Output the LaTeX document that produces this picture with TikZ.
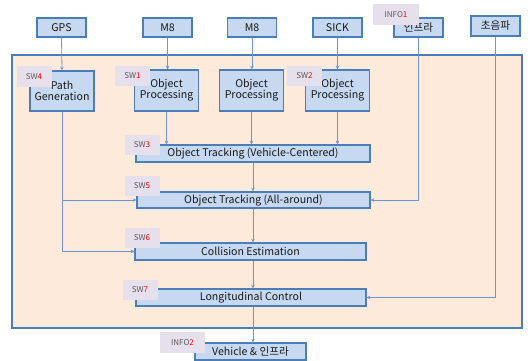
\documentclass[tikz,border=0pt]{standalone}
\usepackage{fontspec}
\setmainfont{Noto Sans CJK KR}
\usetikzlibrary{arrows.meta}
\definecolor{boxfill}{HTML}{C6D9F1}
\definecolor{boxline}{HTML}{4A7EBB}
\definecolor{panelfill}{HTML}{FDEADA}
\definecolor{wire}{HTML}{6F95CF}
\definecolor{tagfill}{HTML}{E5E0EC}
\definecolor{tagtext}{HTML}{595959}
\tikzset{
  blk/.style={draw=boxline, fill=boxfill, line width=1.4pt, inner sep=0pt,
    font=\fontsize{10.6}{12}\selectfont, text=black!90, align=center},
  tag/.style={fill=tagfill, inner sep=0pt, minimum width=35pt, minimum height=20pt,
    font=\fontsize{8}{9}\selectfont, text=tagtext},
  flow/.style={draw=wire, line width=0.8pt, -{Stealth[length=3.5pt,width=3.5pt]}}
}
\newcommand{\tagnum}[2]{#1\textcolor{red}{#2}}
\begin{document}
\begin{tikzpicture}[x=1pt,y=-1pt]
\useasboundingbox (0,0) rectangle (530,361);
% processing area
\draw[fill=panelfill, draw=boxline, line width=1.4pt] (12,55) rectangle (522,328);
% sensors
\node[blk, minimum width=49pt, minimum height=19pt] (gps) at (61.5,27.5) {GPS};
\node[blk, minimum width=49pt, minimum height=19pt] (m8a) at (167.5,27.5) {M8};
\node[blk, minimum width=49pt, minimum height=19pt] (m8b) at (252,27.5) {M8};
\node[blk, minimum width=49pt, minimum height=19pt] (sick) at (337.5,27.5) {SICK};
\node[blk, minimum width=49pt, minimum height=19pt] (infra) at (418.5,27.5) {인프라};
\node[blk, minimum width=49pt, minimum height=20pt] (ultra) at (495.5,26) {초음파};
% processing blocks
\node[blk, minimum width=64pt, minimum height=40pt] (pg) at (62,91) {Path\\[-1pt]Generation};
\node[blk, minimum width=64pt, minimum height=41pt] (op1) at (166.5,90.5) {Object\\[-1pt]Processing};
\node[blk, minimum width=64pt, minimum height=41pt] (op2) at (251.5,90.5) {Object\\[-1pt]Processing};
\node[blk, minimum width=64pt, minimum height=41pt] (op3) at (337.5,90.5) {Object\\[-1pt]Processing};
\node[blk, minimum width=234pt, minimum height=17pt] (otvc) at (253,153.5) {Object Tracking (Vehicle-Centered)};
\node[blk, minimum width=233pt, minimum height=16pt] (otaa) at (253.5,200) {Object Tracking (All-around)};
\node[blk, minimum width=231pt, minimum height=17pt] (ce) at (250.5,251.5) {Collision Estimation};
\node[blk, minimum width=230pt, minimum height=17pt] (lc) at (251,297.5) {Longitudinal Control};
\node[blk, minimum width=111pt, minimum height=17pt] (veh) at (250.5,351.5) {Vehicle \& 인프라};
% connections
\draw[flow] (gps.south) -- (pg.north);
\draw[flow] (m8a.south) -- (m8a.south |- op1.north);
\draw[flow] (m8b.south) -- (m8b.south |- op2.north);
\draw[flow] (sick.south) -- (sick.south |- op3.north);
\draw[flow] (op1.south) -- (op1.south |- otvc.north);
\draw[flow] (op2.south) -- (op2.south |- otvc.north);
\draw[flow] (op3.south) -- (op3.south |- otvc.north);
\draw[flow] (otvc.south) -- (otvc.south |- otaa.north);
\draw[flow] (otvc.south |- otaa.south) -- (otvc.south |- ce.north);
\draw[flow] (otvc.south |- ce.south) -- (otvc.south |- lc.north);
\draw[flow] (otvc.south |- lc.south) -- (otvc.south |- veh.north);
\draw[flow] (pg.south) |- (otaa.west);
\draw[flow] (pg.south) |- (ce.west);
\draw[flow] (infra.south) |- (otaa.east);
\draw[flow] (ultra.south) |- (lc.east);
% tags
\node[tag] (t4) at (34,76.5) {\tagnum{SW}{4}};
\node[tag] (t1) at (132.5,76) {\tagnum{SW}{1}};
\node[tag] (t2) at (304.5,76) {\tagnum{SW}{2}};
\node[tag] (t3) at (142,144.5) {\tagnum{SW}{3}};
\node[tag] (t5) at (142,186) {\tagnum{SW}{5}};
\node[tag] (t6) at (142,237.5) {\tagnum{SW}{6}};
\node[tag] (t7) at (140,289.5) {\tagnum{SW}{7}};
\node[tag, minimum width=46pt, minimum height=21pt] (i1) at (396,14.5) {\tagnum{INFO}{1}};
\node[tag, minimum width=45pt, minimum height=21pt] (i2) at (182.5,342.5) {\tagnum{INFO}{2}};
\end{tikzpicture}
\end{document}
